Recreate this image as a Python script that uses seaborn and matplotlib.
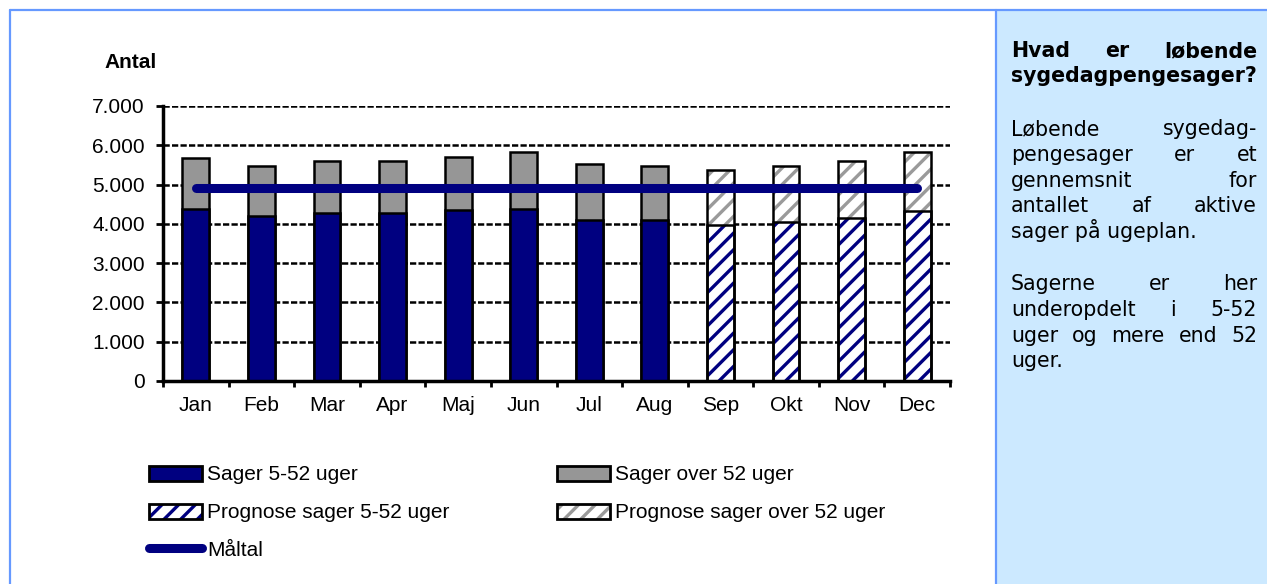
import matplotlib
matplotlib.use('Agg')
import matplotlib.pyplot as plt
from matplotlib.patches import Rectangle, Patch
from matplotlib.lines import Line2D
from matplotlib.legend_handler import HandlerTuple
from matplotlib.ticker import FuncFormatter
import numpy as np
import pandas as pd
import seaborn as sns

# data
maaneder = ['Jan', 'Feb', 'Mar', 'Apr', 'Maj', 'Jun', 'Jul', 'Aug', 'Sep', 'Okt', 'Nov', 'Dec']
sager_5_52 = [4380, 4200, 4280, 4280, 4350, 4390, 4100, 4100, 3970, 4050, 4140, 4330]
sager_over_52 = [1290, 1270, 1330, 1330, 1360, 1440, 1420, 1380, 1400, 1420, 1460, 1500]
maaltal = [4910, 4910, 4910, 4910, 4910, 4910, 4910, 4910, 4910, 4910, 4910, 4910]
prognose = [False, False, False, False, False, False, False, False, True, True, True, True]

NAVY = '#000080'
GRAA = '#969696'
GRAA_SKRAA = '#9a9a9a'
KANT = '#6699FF'
PANEL = '#CCE9FF'

sns.set_theme(style='white')
plt.rcParams['font.family'] = ['Liberation Sans', 'DejaVu Sans']
plt.rcParams['text.color'] = 'black'
plt.rcParams['hatch.linewidth'] = 2.4

W, H = 1267, 584
fig = plt.figure(figsize=(W / 100, H / 100), dpi=100)
fig.patch.set_facecolor('white')


def fx(px):
    return px / W


def fy(py):
    return 1 - py / H


# info panel + blue frame
fig.add_artist(Rectangle((fx(996), 0), 1 - fx(996), fy(10), transform=fig.transFigure,
                         fc=PANEL, ec='none', zorder=0))
for xs, ys in [([fx(10), 1], [fy(10), fy(10)]),
               ([fx(10), fx(10)], [0, fy(10)]),
               ([fx(996), fx(996)], [0, fy(10)])]:
    fig.add_artist(Line2D(xs, ys, transform=fig.transFigure, color=KANT, lw=1.6))

ax = fig.add_axes([fx(163), fy(381), (950 - 163) / W, (381 - 106) / H])

df = pd.DataFrame({'maaned': maaneder, 'lav': sager_5_52, 'over': sager_over_52})
df['total'] = df['lav'] + df['over']

sns.barplot(data=df, x='maaned', y='total', color=GRAA, saturation=1, width=0.41,
            edgecolor='black', linewidth=1.8, errorbar=None, ax=ax, zorder=2)
sns.barplot(data=df, x='maaned', y='lav', color=NAVY, saturation=1, width=0.41,
            edgecolor='black', linewidth=1.8, errorbar=None, ax=ax, zorder=2)

n = len(maaneder)
graa_bars = ax.patches[:n]
blaa_bars = ax.patches[n:2 * n]
for i, prog in enumerate(prognose):
    if not prog:
        continue
    for bar, farve in [(graa_bars[i], GRAA_SKRAA), (blaa_bars[i], NAVY)]:
        bar.set_facecolor('white')
        bar.set_edgecolor(farve)
        bar.set_hatch('//')
        bar.set_linewidth(0)
        ax.add_patch(Rectangle(bar.get_xy(), bar.get_width(), bar.get_height(),
                               fill=False, ec='black', lw=1.8, zorder=3))

sns.lineplot(x=np.arange(n), y=maaltal, ax=ax, color=NAVY, lw=6.5,
             solid_capstyle='round', legend=False, zorder=4)

ax.set_xlim(-0.5, n - 0.5)
ax.set_ylim(0, 7000)
ax.set_yticks(range(0, 7001, 1000))
ax.yaxis.set_major_formatter(FuncFormatter(lambda v, p: f'{int(v):,}'.replace(',', '.')))
ax.set_xticks(range(n))
ax.set_xticklabels(maaneder)
ax.set_xticks(np.arange(-0.5, n, 1), minor=True)
ax.set_xlabel('')
ax.set_ylabel('')
ax.tick_params(axis='x', which='major', length=0, pad=11, labelsize=15, colors='black')
ax.tick_params(axis='x', which='minor', bottom=True, length=4, width=2, color='black')
ax.tick_params(axis='y', left=True, length=5, width=2, pad=8, labelsize=15, colors='black')
ax.grid(axis='y', color='black', ls=(0, (2.5, 0.9)), lw=1.8)
ax.set_axisbelow(True)
for s in ['top', 'right']:
    ax.spines[s].set_visible(False)
for s in ['left', 'bottom']:
    ax.spines[s].set_linewidth(2.5)
    ax.spines[s].set_color('black')

fig.text(fx(131), fy(63), 'Antal', ha='center', va='center', fontsize=15, fontweight='bold')

# legend, one entry at a time so rows/columns sit where the original has them
h_lav = Patch(fc=NAVY, ec='black', lw=2)
h_over = Patch(fc=GRAA, ec='black', lw=2)
h_plav = (Patch(fc='white', ec=NAVY, hatch='//', lw=0), Patch(fill=False, ec='black', lw=2))
h_pover = (Patch(fc='white', ec=GRAA_SKRAA, hatch='//', lw=0), Patch(fill=False, ec='black', lw=2))
h_maal = Line2D([], [], color=NAVY, lw=6.5, solid_capstyle='round')

poster = [(h_lav, 'Sager 5-52 uger', 149, 475),
          (h_over, 'Sager over 52 uger', 557, 475),
          (h_plav, 'Prognose sager 5-52 uger', 149, 513),
          (h_pover, 'Prognose sager over 52 uger', 557, 513),
          (h_maal, 'Måltal', 149, 550)]
for h, lab, x, y in poster:
    fig.legend([h], [lab], loc='center left', bbox_to_anchor=(fx(x), fy(y)),
               bbox_transform=fig.transFigure, frameon=False, borderpad=0,
               borderaxespad=0, handlelength=2.55, handleheight=0.7,
               handletextpad=0.25, fontsize=15, labelcolor='black',
               handler_map={tuple: HandlerTuple(ndivide=1)})

# justified text in the panel
renderer = fig.canvas.get_renderer()
VENSTRE, HOEJRE = 1011, 1257


def linje(tekst, y, fed=False, sidste=False):
    ord_ = tekst.split(' ')
    kw = dict(fontsize=14.8, family='DejaVu Sans', fontweight='bold' if fed else 'normal',
              va='baseline', ha='left', color='black')
    if sidste or len(ord_) == 1:
        fig.text(fx(VENSTRE), fy(y), tekst, **kw)
        return
    txt = [fig.text(0, fy(y), o, **kw) for o in ord_]
    bredder = [t.get_window_extent(renderer).width for t in txt]
    mellemrum = (HOEJRE - VENSTRE - sum(bredder)) / (len(ord_) - 1)
    x = VENSTRE
    for t, b in zip(txt, bredder):
        t.set_x(fx(x))
        x += b + mellemrum


linje('Hvad er løbende', 57, fed=True)
linje('sygedagpengesager?', 82, fed=True, sidste=True)
afsnit1 = ['Løbende sygedag-', 'pengesager er et', 'gennemsnit for',
           'antallet af aktive', 'sager på ugeplan.']
afsnit2 = ['Sagerne er her', 'underopdelt i 5-52', 'uger og mere end 52', 'uger.']
for k, l in enumerate(afsnit1):
    linje(l, 135 + 25.8 * k, sidste=(k == len(afsnit1) - 1))
for k, l in enumerate(afsnit2):
    linje(l, 290 + 25.8 * k, sidste=(k == len(afsnit2) - 1))

fig.savefig('out.png', dpi=100)
